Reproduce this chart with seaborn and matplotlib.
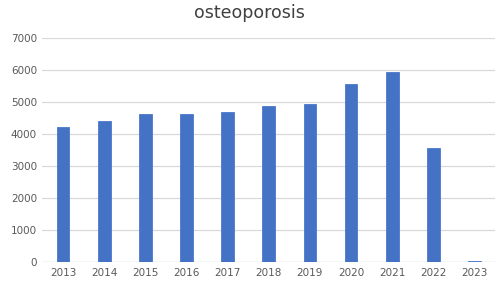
import matplotlib
matplotlib.use("Agg")
import matplotlib.pyplot as plt
import seaborn as sns
import pandas as pd

years = ["2013", "2014", "2015", "2016", "2017", "2018", "2019", "2020", "2021", "2022", "2023"]
counts = [4228, 4396, 4635, 4635, 4688, 4875, 4927, 5552, 5927, 3562, 35]
yticks = [0, 1000, 2000, 3000, 4000, 5000, 6000, 7000]

df = pd.DataFrame({"year": years, "count": counts})

sns.set_theme(style="white")
plt.rcParams["font.family"] = ["DejaVu Sans"]

fig = plt.figure(figsize=(4.98, 2.89), dpi=100)
ax = fig.add_axes([0.0853, 0.0934, 0.9087, 0.7751])

sns.barplot(data=df, x="year", y="count", color="#4472C4", width=0.31,
            saturation=1, ax=ax, zorder=3, edgecolor="#4a78cc", linewidth=0.6)

ax.set_ylim(0, 7000)
ax.set_xlim(-0.5, len(years) - 0.5)
ax.set_yticks(yticks)
ax.set_yticklabels([str(v) for v in yticks])
ax.grid(axis="y", color="#d9d9d9", linewidth=0.9, zorder=0)
ax.grid(axis="x", visible=False)
for s in ax.spines.values():
    s.set_visible(False)
ax.axhline(0, color="#d9d9d9", linewidth=0.9, zorder=1)
ax.tick_params(axis="both", length=0, labelsize=7.5, labelcolor="#595959", pad=4)
ax.set_xlabel("")
ax.set_ylabel("")
fig.text(0.5, 0.955, "osteoporosis", ha="center", va="center", fontsize=12.5, color="#404040")

fig.savefig("out.png", dpi=100)
